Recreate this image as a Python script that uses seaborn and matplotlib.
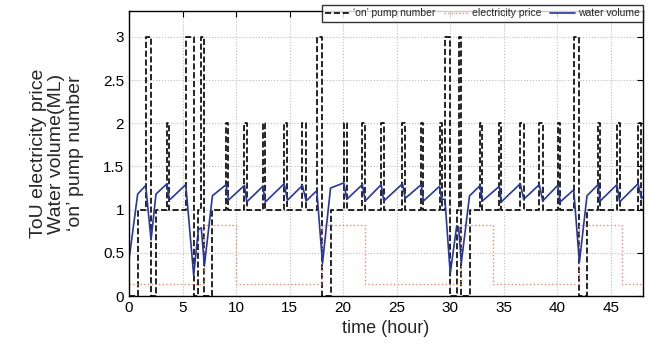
import matplotlib
matplotlib.use("Agg")
from matplotlib import pyplot as plt
import seaborn as sns
import pandas as pd

# water volume (ML)
volume_time = [0, 0.81, 1.56, 2.06, 2.52, 3.55, 3.77, 5.3, 6.04, 6.48, 6.75, 7.04,
               7.79, 9.07, 9.28, 10.78, 11.0, 12.5, 12.74, 14.49, 14.8, 16.2, 16.54,
               17.54, 18.07, 18.82, 20.06, 20.34, 21.8, 22.06, 23.55, 23.8, 25.54,
               25.79, 27.29, 27.5, 29.0, 29.2, 29.5, 30.0, 30.6, 30.78, 31.03, 31.8,
               32.8, 33.0, 34.58, 34.77, 36.54, 36.86, 38.32, 38.63, 40.03, 40.28,
               41.53, 42.06, 42.77, 43.8, 44.0, 45.57, 45.82, 47.54, 47.85, 48.0]
volume = [0.42, 1.18, 1.28, 0.65, 1.18, 1.30, 1.11, 1.29, 0.24, 0.77, 0.79, 0.35,
          1.16, 1.29, 1.11, 1.28, 1.09, 1.27, 1.09, 1.30, 1.11, 1.28, 1.10,
          1.22, 0.38, 1.25, 1.31, 1.12, 1.29, 1.10, 1.29, 1.10, 1.30,
          1.13, 1.29, 1.10, 1.27, 1.12, 1.12, 0.26, 0.81, 0.80, 0.38, 1.16,
          1.28, 1.10, 1.27, 1.09, 1.30, 1.12, 1.29, 1.10, 1.28, 1.09,
          1.23, 0.39, 1.16, 1.29, 1.10, 1.29, 1.09, 1.30, 1.13, 1.15]

# number of pumps switched on (step changes)
pump_time = [0, 0.81, 1.56, 2.06, 2.52, 3.55, 3.77, 5.3, 6.04, 6.48, 6.75, 7.04,
             7.79, 9.07, 9.28, 10.78, 11.0, 12.5, 12.74, 14.49, 14.8, 16.2, 16.54,
             17.54, 18.07, 18.82, 20.06, 20.34, 21.8, 22.06, 23.55, 23.8, 25.54,
             25.79, 27.29, 27.5, 29.0, 29.2, 29.5, 30.0, 30.6, 30.78, 31.03, 31.8,
             32.8, 33.0, 34.58, 34.77, 36.54, 36.86, 38.32, 38.63, 40.03, 40.28,
             41.53, 42.06, 42.77, 43.8, 44.0, 45.57, 45.82, 47.54, 47.85, 48.0]
pumps = [0, 1, 3, 0, 1, 2, 1, 3, 0, 1, 3, 0,
         1, 2, 1, 2, 1, 2, 1, 2, 1, 2, 1,
         3, 0, 1, 2, 1, 2, 1, 2, 1, 2,
         1, 2, 1, 2, 1, 3, 0, 1, 3, 0, 1,
         2, 1, 2, 1, 2, 1, 2, 1, 2, 1,
         3, 0, 1, 2, 1, 2, 1, 2, 1, 1]

# time-of-use electricity price
price_time = [0, 7, 10, 18, 22, 31, 34, 42, 46, 48]
price = [0.14, 0.82, 0.14, 0.82, 0.14, 0.82, 0.14, 0.82, 0.14, 0.14]

df_vol = pd.DataFrame({"time": volume_time, "value": volume})
df_pump = pd.DataFrame({"time": pump_time, "value": pumps})
df_price = pd.DataFrame({"time": price_time, "value": price})

sns.set_theme(style="white")
plt.rcParams["font.family"] = ["Liberation Sans", "DejaVu Sans"]

fig = plt.figure(figsize=(6.53, 3.54), dpi=100)
ax = fig.add_axes([129 / 653, 1 - 296 / 354, (643 - 129) / 653, (296 - 11) / 354])

sns.lineplot(data=df_pump, x="time", y="value", ax=ax, color="black",
             linestyle="--", dashes=(3.5, 2.5), linewidth=1.2,
             drawstyle="steps-post", label="\u2018on\u2019 pump number")
sns.lineplot(data=df_price, x="time", y="value", ax=ax, color="#f08a6a",
             linestyle=":", linewidth=1.0, drawstyle="steps-post",
             label="electricity price")
sns.lineplot(data=df_vol, x="time", y="value", ax=ax, color="#25379f",
             linewidth=1.2, label="water volume")

ax.set_xlim(0, 48)
ax.set_ylim(0, 3.3)
ax.set_xticks(range(0, 50, 5))
ax.set_yticks([0, 0.5, 1, 1.5, 2, 2.5, 3])
ax.set_yticklabels(["0", "0.5", "1", "1.5", "2", "2.5", "3"])
ax.tick_params(direction="in", top=True, right=True, length=4, width=0.8,
               labelsize=11, colors="black")
ax.grid(True, linestyle=":", color="#bdbdbd", linewidth=0.8)
for s in ax.spines.values():
    s.set_color("black")
    s.set_linewidth(1.0)

ax.set_xlabel("time (hour)", fontsize=13)
ax.set_ylabel("ToU electricity price\nWater volume(ML)\n\u2018on\u2019 pump number",
              fontsize=14, linespacing=1.1, labelpad=14)

leg = ax.legend(loc="upper right", bbox_to_anchor=(1.0, 1.02), ncol=3,
                fontsize=7.5, frameon=True, fancybox=False, edgecolor="black",
                handlelength=2.4, handletextpad=0.3, columnspacing=0.8,
                borderpad=0.3, borderaxespad=0)
leg.get_frame().set_linewidth(1.0)

fig.savefig("out.png", dpi=100)
